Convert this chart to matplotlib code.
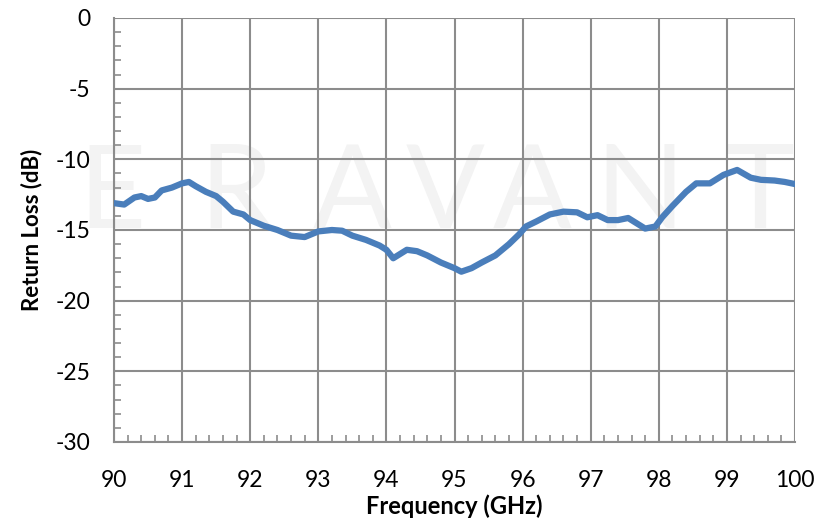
import matplotlib
matplotlib.use("Agg")
import matplotlib.pyplot as plt
from matplotlib.ticker import MultipleLocator

freq_ghz = [90.0, 90.15, 90.3, 90.4, 90.5, 90.6, 90.7, 90.85, 91.0, 91.1,
            91.2, 91.35, 91.5, 91.6, 91.75, 91.9, 92.0, 92.2, 92.4, 92.6,
            92.8, 93.0, 93.2, 93.35, 93.5, 93.7, 93.9, 94.0, 94.1, 94.2,
            94.3, 94.45, 94.6, 94.8, 95.0, 95.1, 95.25, 95.4, 95.6, 95.8,
            95.95, 96.05, 96.2, 96.4, 96.6, 96.8, 96.95, 97.1, 97.25, 97.4,
            97.55, 97.8, 97.95, 98.05, 98.2, 98.4, 98.55, 98.75, 98.95, 99.15,
            99.35, 99.5, 99.7, 99.85, 100.0]
return_loss_db = [-13.1, -13.2, -12.7, -12.6, -12.8, -12.7, -12.2, -12.0, -11.7, -11.6,
                  -11.9, -12.3, -12.6, -13.0, -13.7, -13.9, -14.3, -14.7, -15.0, -15.4,
                  -15.5, -15.1, -15.0, -15.05, -15.4, -15.7, -16.1, -16.4, -17.0, -16.7,
                  -16.4, -16.5, -16.8, -17.3, -17.7, -17.95, -17.7, -17.3, -16.8, -16.0,
                  -15.3, -14.75, -14.4, -13.9, -13.7, -13.75, -14.1, -13.95, -14.3, -14.3,
                  -14.15, -14.9, -14.75, -14.1, -13.3, -12.3, -11.7, -11.7, -11.1, -10.75,
                  -11.3, -11.45, -11.5, -11.6, -11.75]

x_ticks = [90, 91, 92, 93, 94, 95, 96, 97, 98, 99, 100]
y_ticks = [0, -5, -10, -15, -20, -25, -30]
y_tick_labels = ['0', '-5', '-10', '-15', '-20', '-25', '-30']

plt.rcParams['font.family'] = ['Lato', 'DejaVu Sans']

W, H = 827, 521
fig = plt.figure(figsize=(W/100, H/100), dpi=100)
ax = fig.add_axes([114/W, 1 - 442/H, (795-114)/W, (442-18)/H])

# faint brand watermark, drawn underneath the axes and grid
wm_letters = "ERAVANT"
wm_x = [112, 236, 352, 445, 532, 640, 760]
for ch, px in zip(wm_letters, wm_x):
    fig.text(px/W, 1 - 196/H, ch, ha='center', va='center',
             fontsize=84, color='#f3f3f3', fontweight='normal', zorder=-1)

ax.set_facecolor('none')
ax.plot(freq_ghz, return_loss_db, color='#4a7ebb', linewidth=4.5,
        solid_capstyle='round', solid_joinstyle='round', zorder=3)

ax.set_xlim(90, 100)
ax.set_ylim(-30, 0)
ax.set_xticks(x_ticks)
ax.set_yticks(y_ticks)
ax.set_yticklabels(y_tick_labels)
ax.xaxis.set_minor_locator(MultipleLocator(0.2))
ax.yaxis.set_minor_locator(MultipleLocator(1))

grid_c = '#8c8c8c'
ax.grid(True, which='major', color=grid_c, linewidth=1.5)
for s in ['top', 'right']:
    ax.spines[s].set_visible(False)
for s in ['left', 'bottom']:
    ax.spines[s].set_color(grid_c)
    ax.spines[s].set_linewidth(1.5)

ax.tick_params(which='major', length=0, labelsize=16.5, labelcolor='black')
ax.tick_params(axis='x', which='major', pad=20)
ax.tick_params(axis='y', which='major', pad=17)
ax.tick_params(which='minor', direction='in', length=5, color=grid_c, width=1.2)

ax.set_xlabel('Frequency (GHz)', fontsize=17, fontweight='bold', va='baseline')
ax.xaxis.set_label_coords(0.5, (442 - 514) / (442 - 18))
ax.set_ylabel('Return Loss (dB)', fontsize=16, fontweight='bold', va='center')
ax.yaxis.set_label_coords((32 - 114) / (795 - 114), 0.5)

fig.savefig('out.png', dpi=100)
